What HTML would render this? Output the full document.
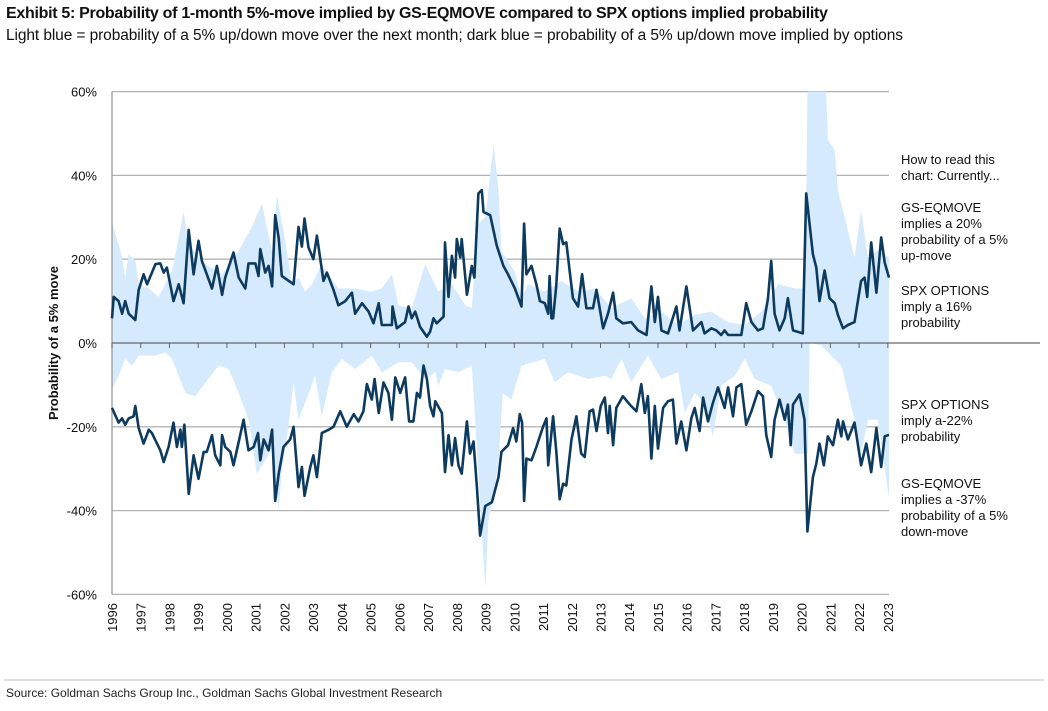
<!DOCTYPE html>
<html><head><meta charset="utf-8">
<style>
body{margin:0;background:#fff;width:1048px;height:711px;overflow:hidden;font-family:"Liberation Sans",Arial,sans-serif;}
#title{position:absolute;left:6px;top:5px;font-size:16px;font-weight:bold;color:#111;letter-spacing:-0.3px;white-space:nowrap;}
#sub{position:absolute;left:6px;top:27px;font-size:15.5px;color:#111;white-space:nowrap;letter-spacing:-0.1px;}
#src{position:absolute;left:6px;top:686px;font-size:12px;color:#222;white-space:nowrap;}
svg{position:absolute;left:0;top:0;}
</style></head><body>
<div id="title">Exhibit 5: Probability of 1-month 5%-move implied by GS-EQMOVE compared to SPX options implied probability</div>
<div id="sub">Light blue = probability of a 5% up/down move over the next month; dark blue = probability of a 5% up/down move implied by options</div>
<div id="src">Source: Goldman Sachs Group Inc., Goldman Sachs Global Investment Research</div>
<svg id="chart" width="1048" height="711"></svg>
<script>
const upDarkT=[1996.00,1996.06,1996.23,1996.35,1996.46,1996.58,1996.81,1996.93,1997.10,1997.22,1997.51,1997.68,1997.80,1997.91,1998.14,1998.32,1998.49,1998.67,1998.84,1999.01,1999.13,1999.48,1999.65,1999.83,1999.94,2000.23,2000.41,2000.64,2000.75,2000.99,2001.10,2001.16,2001.33,2001.45,2001.57,2001.68,2001.80,2001.91,2002.32,2002.49,2002.61,2002.70,2002.84,2003.01,2003.13,2003.36,2003.48,2003.71,2003.88,2004.12,2004.35,2004.46,2004.70,2004.93,2005.10,2005.28,2005.39,2005.74,2005.76,2005.91,2006.20,2006.32,2006.43,2006.55,2006.72,2006.96,2007.07,2007.19,2007.30,2007.54,2007.59,2007.71,2007.83,2007.94,2008.00,2008.12,2008.17,2008.35,2008.52,2008.61,2008.75,2008.87,2008.93,2009.16,2009.39,2009.62,2009.78,2010.02,2010.25,2010.34,2010.42,2010.60,2010.77,2010.89,2011.06,2011.18,2011.23,2011.29,2011.35,2011.46,2011.58,2011.70,2011.81,2012.04,2012.22,2012.36,2012.51,2012.74,2012.86,2013.09,2013.26,2013.44,2013.55,2013.78,2014.07,2014.31,2014.60,2014.77,2014.89,2015.00,2015.12,2015.35,2015.64,2015.75,2015.99,2016.22,2016.51,2016.62,2016.86,2017.03,2017.20,2017.32,2017.44,2017.90,2018.07,2018.25,2018.48,2018.65,2018.83,2018.94,2019.06,2019.23,2019.41,2019.52,2019.70,2020.04,2020.16,2020.39,2020.51,2020.62,2020.80,2020.97,2021.15,2021.26,2021.44,2021.61,2021.84,2022.07,2022.19,2022.28,2022.42,2022.60,2022.77,2022.89,2023.04];
const upDarkV=[5.9,11,10,7,10,7,5.5,12.7,16.4,14,18.8,19,16.8,18,10,14,9.5,27,16.4,24.4,19.6,13,18.4,11.5,15.6,21.6,15.6,13,19,19,16,22.4,16.8,18.4,13.5,30.5,25,16,14,27.7,23,29.7,22.8,20,25.6,14.8,16.8,12.7,9,10,12,7,9.5,7.5,4.7,9.5,4.3,4.3,8.7,3.5,5,8.7,5.9,7.5,3.9,1.5,2.7,5.9,4.7,6.3,24,11,20.8,15.6,24.8,20.4,24.8,11.5,18.4,15.6,35.7,36.5,31.3,30.5,23.2,18.4,16.4,13,8.7,28.5,16.4,18.4,14,10,9.5,7,16,5.9,5.9,13.5,27.3,23.6,24,10.7,8.7,16.4,8.3,8.3,12.7,3.5,7,12,5.9,4.7,5,3,1.9,13.5,5,11,3,2.3,8.7,3,13.5,3,5,2.3,3.5,3,1.9,3,1.9,1.9,9.5,5,3,3.5,10.7,19.6,7,3,5.9,10.7,3,2.3,35.7,21.2,18,10,17.3,10.7,9.5,6.7,3.5,4.3,5,14.8,15.6,11,24,12,25.2,19.2,15.6];
const downDarkT=[1996.00,1996.23,1996.35,1996.46,1996.58,1996.75,1996.81,1996.93,1997.10,1997.28,1997.39,1997.68,1997.80,1997.97,1998.14,1998.26,1998.38,1998.43,1998.52,1998.67,1998.84,1999.01,1999.19,1999.30,1999.48,1999.59,1999.77,1999.83,1999.94,2000.12,2000.23,2000.58,2000.75,2000.93,2001.08,2001.16,2001.28,2001.45,2001.57,2001.68,2001.80,2001.97,2002.20,2002.32,2002.49,2002.61,2002.70,2002.90,2003.01,2003.13,2003.30,2003.54,2003.71,2003.94,2004.17,2004.41,2004.58,2004.75,2004.87,2005.04,2005.14,2005.28,2005.45,2005.62,2005.74,2005.86,2006.03,2006.20,2006.34,2006.49,2006.61,2006.72,2006.84,2006.96,2007.07,2007.19,2007.25,2007.48,2007.59,2007.71,2007.83,2007.94,2008.06,2008.17,2008.35,2008.46,2008.58,2008.70,2008.81,2008.99,2009.22,2009.45,2009.55,2009.78,2009.96,2010.07,2010.19,2010.27,2010.34,2010.42,2010.60,2010.77,2011.00,2011.12,2011.18,2011.35,2011.46,2011.58,2011.70,2011.81,2011.99,2012.16,2012.33,2012.45,2012.62,2012.74,2012.86,2013.01,2013.15,2013.26,2013.32,2013.44,2013.55,2013.78,2014.02,2014.25,2014.42,2014.54,2014.65,2014.77,2014.89,2015.00,2015.18,2015.35,2015.52,2015.64,2015.81,2015.99,2016.16,2016.28,2016.45,2016.57,2016.74,2016.91,2017.09,2017.32,2017.44,2017.61,2017.73,2017.90,2018.07,2018.25,2018.48,2018.65,2018.77,2018.94,2019.06,2019.23,2019.41,2019.52,2019.62,2019.70,2019.93,2020.10,2020.20,2020.39,2020.51,2020.62,2020.77,2020.91,2021.09,2021.26,2021.38,2021.44,2021.61,2021.84,2022.07,2022.25,2022.42,2022.60,2022.77,2022.89,2023.04];
const downDarkV=[-15.5,-19,-18,-19.5,-18,-17.5,-15,-20.3,-24,-20.7,-21.5,-25.6,-28.4,-24.8,-19,-24.8,-20.7,-24.8,-19.5,-36,-26.8,-32.4,-26,-26,-22,-26.8,-29.2,-22,-24.8,-26,-29.2,-18.3,-25.6,-24.8,-21.5,-28,-23,-25.6,-20.7,-37.7,-31.2,-24.8,-23,-20,-34.4,-29.6,-36.5,-29.6,-26.8,-32,-21.5,-20.7,-20,-16.3,-20,-17,-18.7,-16.3,-9.8,-13.5,-8.6,-16.7,-9.4,-11.9,-18.3,-8.2,-11.9,-8.2,-18.7,-18.7,-11.9,-13,-5.4,-8.6,-15,-17.5,-13.9,-16.7,-30.8,-22,-29.2,-22.7,-29.2,-31.2,-18.7,-26.4,-23.5,-34.4,-46,-38.9,-38,-32,-26,-24.4,-20.3,-23.5,-17,-19,-37.7,-27.6,-28,-24.8,-20,-18,-29.2,-17.5,-25.6,-37.3,-33.6,-34,-23,-17.5,-26.4,-27.2,-16.3,-15.9,-21,-15,-13,-21.5,-15,-24.4,-15.5,-12.7,-14.7,-16.3,-9.8,-16.7,-12.7,-27.6,-15,-25.2,-15.5,-13.9,-13.5,-24,-18.7,-25.6,-18,-15.5,-21,-13,-18.7,-14.3,-10.6,-15.5,-10.6,-17.5,-10.6,-9.8,-19.5,-16.3,-11.5,-12.7,-22,-27.2,-18.3,-13.5,-18.3,-14.7,-24.4,-14.7,-12.3,-18.3,-45,-32,-28.8,-24,-29.2,-22.3,-24.4,-18.3,-22.3,-18.7,-23,-19,-29.2,-24,-30.8,-20.3,-29.6,-22.3,-21.9];
const upLightT=[1996.00,1996.23,1996.35,1996.46,1996.58,1996.81,1996.93,1997.28,1997.62,1998.09,1998.49,1998.67,1999.25,1999.83,2000.41,2000.87,2001.22,2001.57,2001.74,2002.03,2002.26,2002.49,2002.72,2002.96,2003.30,2003.88,2004.46,2005.04,2005.39,2005.74,2005.97,2006.43,2006.90,2007.36,2007.83,2008.29,2008.52,2008.75,2008.99,2009.28,2009.45,2009.55,2010.02,2010.25,2010.48,2011.06,2011.64,2012.22,2012.80,2013.38,2014.07,2014.54,2015.12,2015.70,2016.28,2016.86,2017.44,2018.02,2018.60,2019.18,2019.76,2020.12,2020.22,2020.80,2020.91,2021.15,2021.26,2021.50,2021.84,2022.07,2022.31,2022.65,2023.04];
const upLightV=[28.5,23.6,20.4,15.6,21.2,19.6,14,13,11,17.2,31.3,23.6,18.8,16.4,22,27.7,33.3,21.6,35,24.4,14,15.6,12.3,14,18.8,13,13,12.3,13,16.4,9,8.3,18.8,12.3,14,9,8.3,28.5,30,47.4,36.5,22,17,10.7,14,12.3,14.8,12.3,13,8.3,10.7,5.9,7.5,4.3,6.7,7.5,5,4.3,7.5,14,13,13,70,70,48.6,46,36.5,30,20.4,31.7,20.4,22,20.4];
const downLightT=[1996.00,1996.23,1996.46,1996.70,1996.93,1997.51,1997.86,1998.09,1998.55,1998.90,1999.25,1999.71,2000.06,2000.41,2000.75,2001.04,2001.33,2001.57,2001.80,2001.91,2002.14,2002.32,2002.49,2002.72,2003.07,2003.30,2003.65,2004.00,2004.46,2005.04,2005.39,2005.97,2006.43,2006.90,2007.25,2007.36,2007.59,2008.06,2008.52,2008.64,2008.87,2008.99,2009.10,2009.33,2009.45,2009.60,2009.90,2010.25,2011.06,2011.41,2011.87,2012.57,2013.15,2013.38,2013.73,2014.07,2014.65,2015.12,2015.70,2015.93,2016.28,2016.62,2016.91,2017.20,2017.67,2018.02,2018.37,2018.94,2019.41,2019.76,2020.22,2020.28,2020.68,2020.91,2021.38,2021.84,2022.07,2022.31,2022.65,2023.04];
const downLightV=[-11,-7.8,-3.8,-5.4,-3,-3,-2.2,-3.8,-11.9,-12.7,-9.4,-5.4,-6.2,-11.9,-18.3,-31.2,-28,-24.8,-40,-30.4,-20,-9.4,-18.3,-14.3,-7.8,-17.5,-7,-3.8,-6.2,-3,-7,-4.6,-4.6,-8.6,-7,-10.2,-6.2,-7,-5.4,-18.3,-45,-58.6,-42.5,-34.4,-28,-12,-13.5,-5.4,-3.8,-9.4,-7,-8.6,-7.8,-8.6,-3.8,-9.4,-3,-8.6,-7,-16.7,-11.9,-14.3,-22.3,-10.2,-7.8,-3.8,-8.6,-10.2,-18.3,-26.4,-26.4,0,-0.5,-2.2,-5.4,-18.3,-26.4,-18.3,-18.3,-37];
const yTicks=[60,40,20,0,-20,-40,-60];
const years=[1996,1997,1998,1999,2000,2001,2002,2003,2004,2005,2006,2007,2008,2009,2010,2011,2012,2013,2014,2015,2016,2017,2018,2019,2020,2021,2022,2023];
const notes=[["How to read this",159],["chart: Currently...",175],["GS-EQMOVE",207],["implies a 20%",223],["probability of a 5%",239],["up-move",255],["SPX OPTIONS",290],["imply a 16%",306],["probability",322],["SPX OPTIONS",404],["imply a-22%",420],["probability",436],["GS-EQMOVE",483],["implies a -37%",499],["probability of a 5%",515],["down-move",531]];

const X0=112,X1=889,Y0=343,PX=4.19;
const xs=t=>X0+(t-1996)*(X1-X0)/27.04;
const ys=v=>Y0-v*PX;
const svg=document.getElementById('chart');
const NS='http://www.w3.org/2000/svg';
function mk(tag,a,parent){const e=document.createElementNS(NS,tag);for(const k in a)e.setAttribute(k,a[k]);(parent||svg).appendChild(e);return e;}
const defs=mk('defs',{});
const cp=mk('clipPath',{id:'plotclip'},defs);
mk('rect',{x:X0,y:ys(60),width:X1-X0+2,height:ys(-60)-ys(60)},cp);

yTicks.forEach(v=>{
  if(v!==0){const g=mk('line',{x1:X0,x2:X1,y1:ys(v),y2:ys(v),stroke:'#b4b4b4','stroke-width':1.3});
  
  }
  const t=mk('text',{x:97,y:ys(v)+5,'text-anchor':'end','font-size':13,fill:'#111'});
  t.textContent=v+'%';
  
  
});
function area(T,V,name){
  let d='M'+xs(T[0])+','+Y0;
  T.forEach((t,i)=>{d+=' L'+xs(t).toFixed(1)+','+ys(V[i]).toFixed(1);});
  d+=' L'+xs(T[T.length-1])+','+Y0+' Z';
  const p=mk('path',{d:d,fill:'#d5eafc','clip-path':'url(#plotclip)'});
  
  
}
area(upLightT,upLightV,'eqmove-up-area');
area(downLightT,downLightV,'eqmove-down-area');
const ya=mk('line',{x1:X0,x2:X0,y1:ys(60),y2:ys(-60),stroke:'#999','stroke-width':1.3});


const za=mk('line',{x1:X0,x2:1040,y1:Y0,y2:Y0,stroke:'#666','stroke-width':1.3});


years.forEach(y=>{
  const tk=mk('line',{x1:xs(y),x2:xs(y),y1:Y0,y2:Y0+5,stroke:'#666','stroke-width':1});
  
  
  const tx=mk('text',{x:0,y:0,'text-anchor':'end','font-size':13,fill:'#111',transform:'translate('+(xs(y)+5)+',603) rotate(-90)'});
  tx.textContent=y;
  
  
});
function line(T,V,name){
  const pts=T.map((t,i)=>xs(t).toFixed(1)+','+ys(V[i]).toFixed(1)).join(' ');
  const p=mk('polyline',{points:pts,fill:'none',stroke:'#0d3a5f','stroke-width':2.6,'stroke-linejoin':'round'});
  
  
}
line(upDarkT,upDarkV,'spx-up-line');
line(downDarkT,downDarkV,'spx-down-line');
const yt=mk('text',{x:0,y:0,'text-anchor':'middle','font-size':13,'font-weight':'bold',fill:'#111',transform:'translate(58,343) rotate(-90)'});
yt.textContent='Probability of a 5% move';


notes.forEach(n=>{
  const t=mk('text',{x:901,y:n[1]+5,'font-size':13,fill:'#111'});
  t.textContent=n[0];
  
  
});
const bl=mk('line',{x1:4,x2:1044,y1:680,y2:680,stroke:'#bbb','stroke-width':1});


</script>
</body></html>
